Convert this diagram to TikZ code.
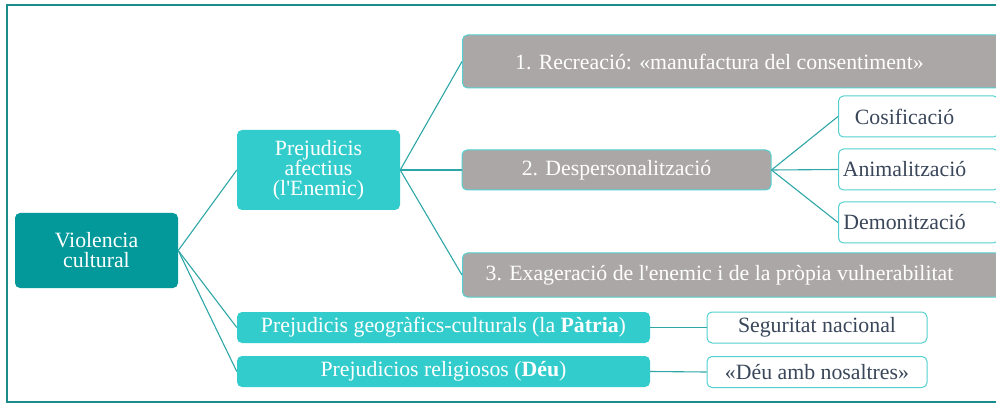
\documentclass[tikz,border=0pt]{standalone}
\usepackage{fontspec}
\setmainfont{Liberation Serif}
\definecolor{darkteal}{HTML}{03999A}
\definecolor{lightteal}{HTML}{33CCCC}
\definecolor{boxgray}{HTML}{ABA7A6}
\definecolor{edgeteal}{HTML}{55D0D0}
\definecolor{linkteal}{HTML}{2EA6A6}
\definecolor{frameteal}{HTML}{1A8C8C}
\definecolor{slate}{HTML}{3A475A}

\begin{document}
\begin{tikzpicture}[x=1pt,y=-1pt,
		every node/.style={font=\fontsize{21.8}{20}\selectfont, inner sep=0pt, align=center, rounded corners=5pt},
		root/.style={fill=darkteal, text=white},
		branch/.style={fill=lightteal, text=white},
		greybox/.style={fill=boxgray, draw=edgeteal, line width=1pt, text=white},
		leafbox/.style={fill=white, draw=edgeteal, line width=1pt, text=slate},
		link/.style={draw=linkteal, line width=1.1pt}]
		\useasboundingbox (0,0) rectangle (996,406);
		\draw[frameteal, line width=1.3pt] (996,5) -- (7,5) -- (7,402) -- (996,402);

		\node[root, minimum width=163, minimum height=75] (viol) at (96.5,250.5) {Violencia\\cultural};
		\node[branch, minimum width=163, minimum height=80] (afect) at (318.5,170) {Prejudicis\\afectius\\(l\textquotesingle Enemic)};

		\node[greybox, anchor=west, minimum width=538, minimum height=53] (recre) at (462,61.5) {\hspace*{-24pt}1. Recreació: «manufactura del consentiment»};
		\node[greybox, minimum width=309, minimum height=40] (desp) at (616.5,170) {2. Despersonalització};
		\node[greybox, anchor=west, minimum width=538, minimum height=44] (exag) at (462,275) {\hspace*{-24pt}3. Exageració de l\textquotesingle enemic i de la pròpia vulnerabilitat};

		\node[leafbox, anchor=west, minimum width=160, minimum height=41] (cosi) at (838,116.5) {\hspace*{-28pt}Cosificació};
		\node[leafbox, anchor=west, minimum width=160, minimum height=41] (anim) at (838,169.5) {\hspace*{-28pt}Animalització};
		\node[leafbox, anchor=west, minimum width=160, minimum height=41] (demo) at (838,222.5) {\hspace*{-28pt}Demonització};

		\node[branch, minimum width=413, minimum height=31] (geo) at (443.5,327.5) {Prejudicis geogràfics-culturals (la \textbf{Pàtria})};
		\node[branch, minimum width=413, minimum height=31] (relig) at (443.5,371.5) {Prejudicios religiosos (\textbf{Déu})};
		\node[leafbox, minimum width=220, minimum height=31] (segur) at (817,327.5) {Seguritat nacional};
		\node[leafbox, minimum width=220, minimum height=31] (deu) at (817,372) {«Déu amb nosaltres»};

		\draw[link] (viol.east) -- (afect.west);
		\draw[link] (viol.east) -- (geo.west);
		\draw[link] (viol.east) -- (relig.west);
		\draw[link] (afect.east) -- (recre.west);
		\draw[link] (afect.east) -- (desp.west);
		\draw[link] (afect.east) -- (exag.west);
		\draw[link] (desp.east) -- (cosi.west);
		\draw[link] (desp.east) -- (anim.west);
		\draw[link] (desp.east) -- (demo.west);
		\draw[link] (geo.east) -- (segur.west);
		\draw[link] (relig.east) -- (deu.west);

	\end{tikzpicture}
\end{document}
